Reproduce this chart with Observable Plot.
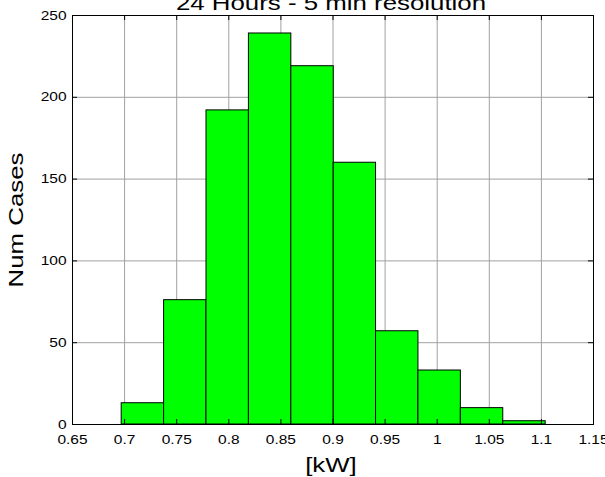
<!DOCTYPE html>
<html><head><meta charset="utf-8">
<script src="https://cdn.jsdelivr.net/npm/d3@7"></script>
<script src="https://cdn.jsdelivr.net/npm/@observablehq/plot@0.6"></script>
<style>html,body{margin:0;padding:0;background:#fff;} svg{display:block}</style>
</head><body><div id="chart"></div>
<script>
const binEdges = [0.6972, 0.7379, 0.7786, 0.8193, 0.8600, 0.9007, 0.9413, 0.9820, 1.0227, 1.0634, 1.1041];
const binCounts = [13, 76, 192, 239, 219, 160, 57, 33, 10, 2];
const xTicks = [0.65, 0.7, 0.75, 0.8, 0.85, 0.9, 0.95, 1, 1.05, 1.1, 1.15];
const xTickLabels = ["0.65", "0.7", "0.75", "0.8", "0.85", "0.9", "0.95", "1", "1.05", "1.1", "1.15"];
const yTicks = [0, 50, 100, 150, 200, 250];
const yTickLabels = ["0", "50", "100", "150", "200", "250"];
const titleText = "24 Hours - 5 min resolution";
const xLabel = "[kW]";
const yLabel = "Num Cases";

const bins = binCounts.map((c, i) => ({x1: binEdges[i], x2: binEdges[i + 1], count: c}));
const W = 605, H = 477, mL = 72, mR = 12, mT = 15, mB = 53;
const pW = W - mL - mR, pH = H - mT - mB;

const chart = Plot.plot({
  width: W, height: H, marginLeft: mL, marginRight: mR, marginTop: mT, marginBottom: mB,
  style: {fontFamily: "'Liberation Sans', Arial, sans-serif", background: "#fff", color: "#000", overflow: "visible"},
  x: {domain: [0.65, 1.15]},
  y: {domain: [0, 250]},
  marks: [
    Plot.gridX(xTicks, {stroke: "#a0a0a0", strokeOpacity: 1}),
    Plot.gridY(yTicks, {stroke: "#a0a0a0", strokeOpacity: 1}),
    Plot.rect(bins, {x1: "x1", x2: "x2", y1: () => 0, y2: "count", fill: "#00ff00", stroke: "#000", strokeWidth: 1}),
    Plot.tickX(xTicks, {x: d => d, insetTop: pH - 5, stroke: "#000"}),
    Plot.tickX(xTicks, {x: d => d, insetBottom: pH - 5, stroke: "#000"}),
    Plot.tickY(yTicks, {y: d => d, insetLeft: pW - 5, stroke: "#000"}),
    Plot.tickY(yTicks, {y: d => d, insetRight: pW - 5, stroke: "#000"}),
    Plot.frame({stroke: "#000"}),
    Plot.axisX(xTicks, {tickSize: 0, tickPadding: 11, tickFormat: d => xTickLabels[xTicks.indexOf(d)], fontSize: 12.6, label: null}),
    Plot.axisY(yTicks, {tickSize: 0, tickPadding: 6, tickFormat: d => yTickLabels[yTicks.indexOf(d)], fontSize: 12.6, label: null})
  ]
});
document.getElementById("chart").append(chart);

const svg = d3.select(chart);
svg.append("text").attr("x", 331).attr("y", 10).attr("text-anchor", "middle")
  .attr("font-size", 21).attr("fill", "#000").text(titleText);
svg.append("text").attr("x", 331).attr("y", 472).attr("text-anchor", "middle")
  .attr("font-size", 21).attr("fill", "#000").text(xLabel);
svg.append("text").attr("transform", "translate(23,220) rotate(-90)").attr("text-anchor", "middle")
  .attr("font-size", 21).attr("fill", "#000").text(yLabel);

// the reference's glyphs are rendered wider than Arial along their reading direction
const STRETCH = 1.23;
chart.querySelectorAll("text").forEach(t => {
  const L = t.getComputedTextLength();
  if (L > 0) {
    t.setAttribute("textLength", (L * STRETCH).toFixed(2));
    t.setAttribute("lengthAdjust", "spacingAndGlyphs");
  }
});
</script>
</body></html>
